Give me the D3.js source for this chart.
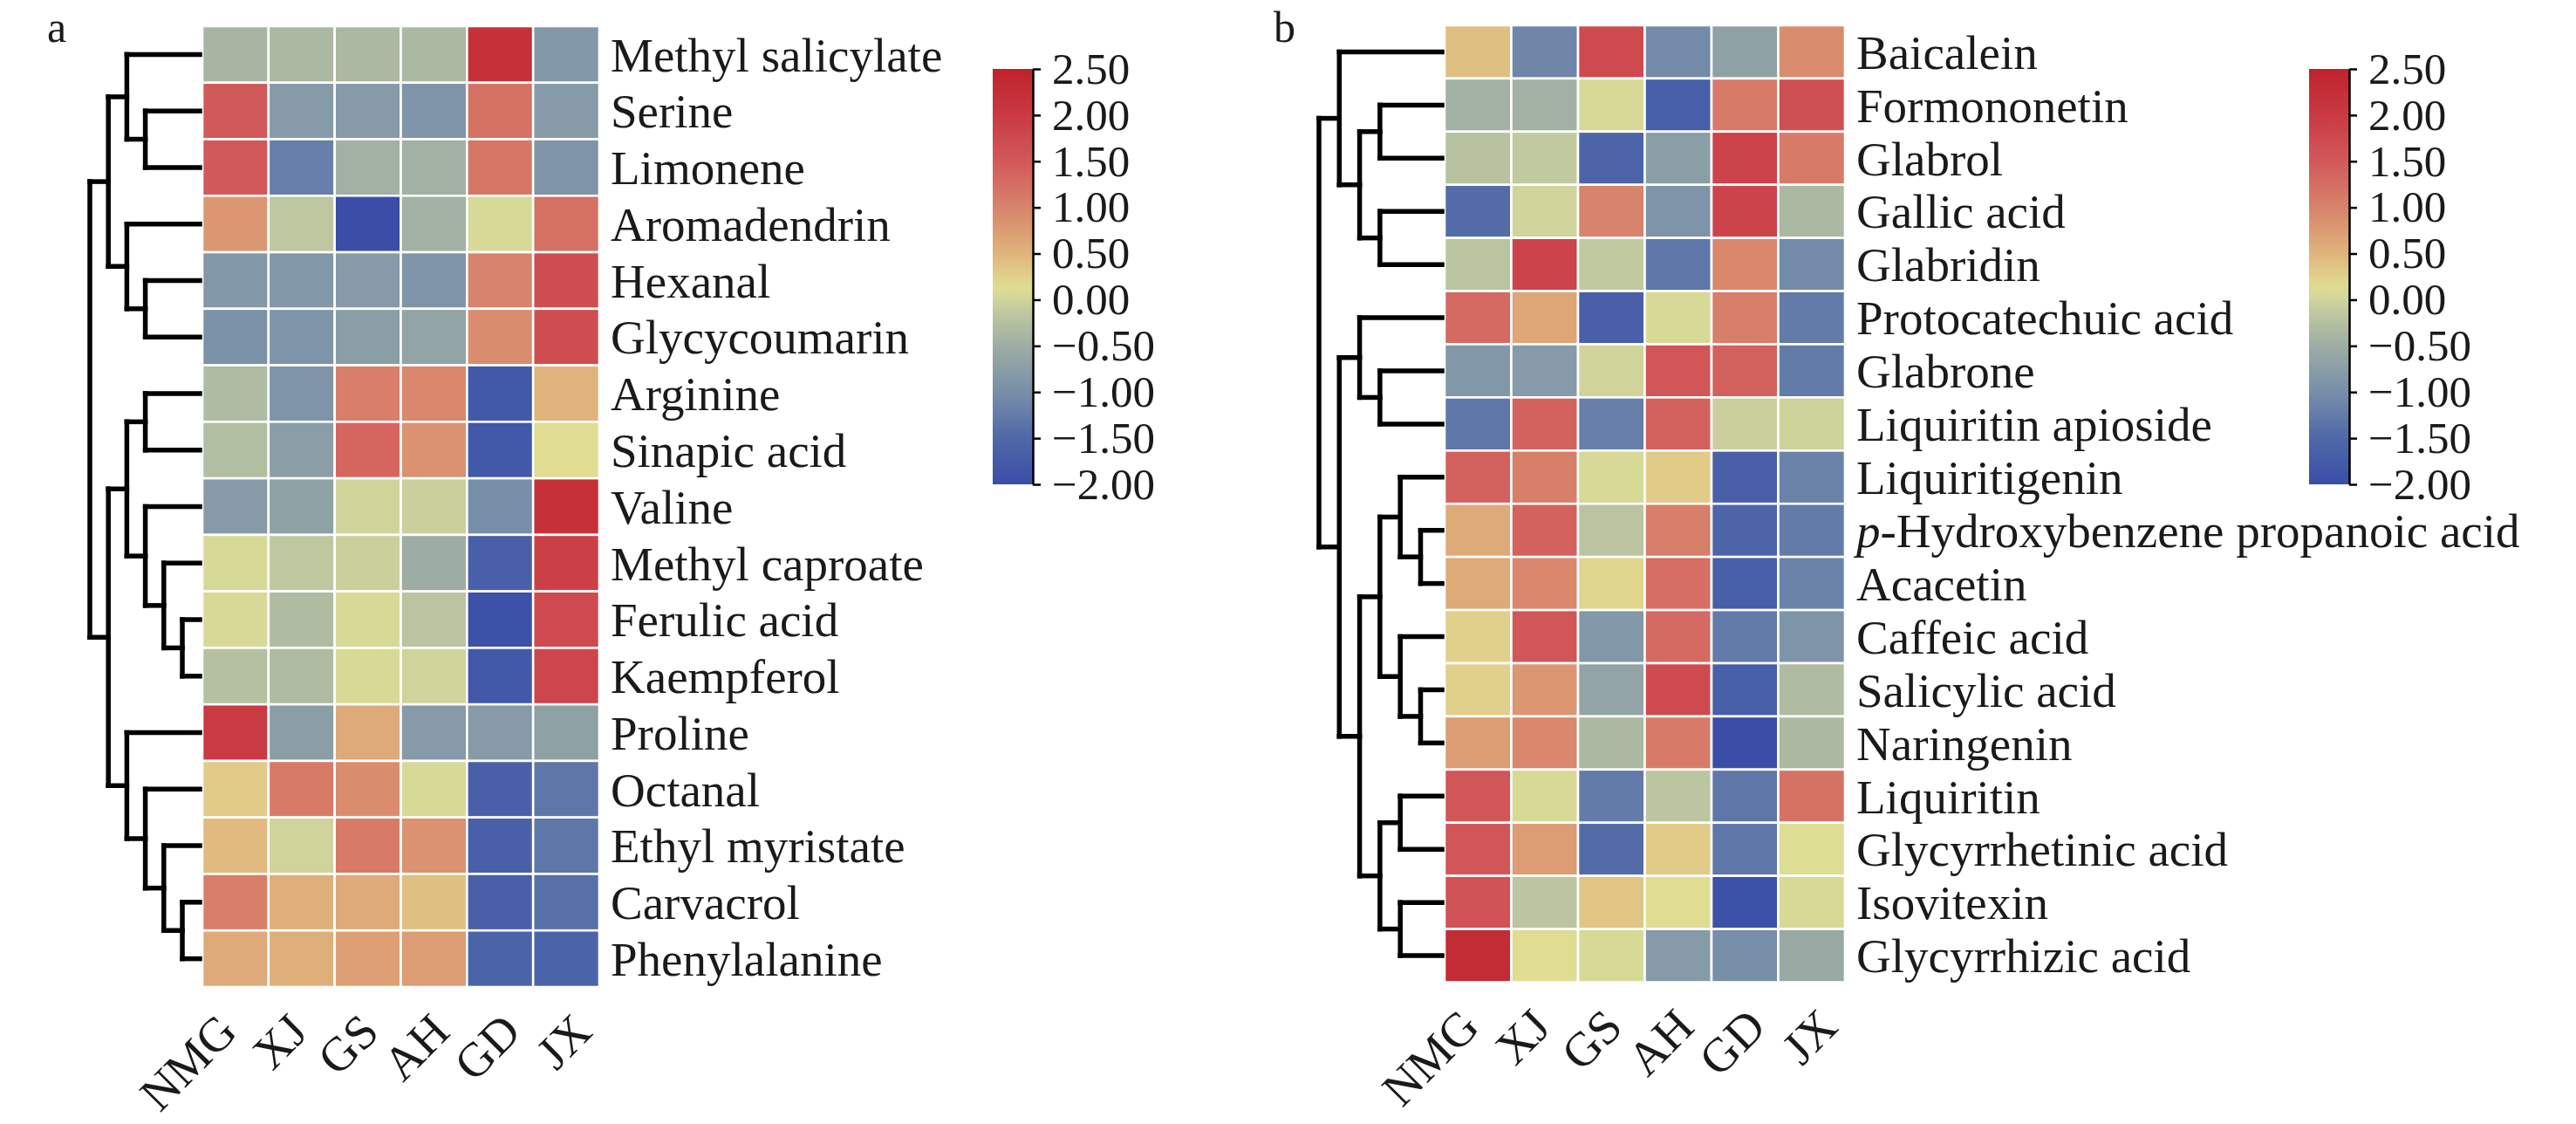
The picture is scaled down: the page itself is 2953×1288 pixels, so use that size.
<!DOCTYPE html>
<html>
<head>
<meta charset="utf-8">
<script src="https://cdn.jsdelivr.net/npm/d3@7/dist/d3.min.js"></script>
<style>
  html, body { margin: 0; padding: 0; background: #fff; }
  svg { display: block; }
  text { font-family: "Liberation Serif", "Times New Roman", serif; fill: #1a1a1a; }
</style>
</head>
<body>
<svg id="chart" width="2953" height="1288"></svg>
<script>
// ---------------- DATA ----------------
const columns = ["NMG", "XJ", "GS", "AH", "GD", "JX"];

const rowsA = ["Methyl salicylate", "Serine", "Limonene", "Aromadendrin", "Hexanal", "Glycycoumarin",
  "Arginine", "Sinapic acid", "Valine", "Methyl caproate", "Ferulic acid", "Kaempferol",
  "Proline", "Octanal", "Ethyl myristate", "Carvacrol", "Phenylalanine"];

const valuesA = [
  [-0.40, -0.35, -0.35, -0.35,  2.20, -0.85],
  [ 1.50, -0.80, -0.80, -0.90,  1.20, -0.80],
  [ 1.50, -1.20, -0.45, -0.45,  1.15, -0.90],
  [ 0.80, -0.15, -2.00, -0.45,  0.05,  1.20],
  [-0.85, -0.85, -0.80, -0.90,  1.00,  1.70],
  [-0.95, -0.90, -0.75, -0.65,  0.90,  1.70],
  [-0.30, -0.90,  1.05,  0.95, -1.80,  0.50],
  [-0.28, -0.75,  1.35,  0.85, -1.80,  0.15],
  [-0.80, -0.70,  0.00, -0.05, -1.00,  2.20],
  [ 0.05, -0.15, -0.05, -0.50, -1.65,  1.90],
  [ 0.05, -0.30,  0.05, -0.20, -1.95,  1.75],
  [-0.25, -0.30,  0.05,  0.00, -1.80,  1.80],
  [ 2.00, -0.75,  0.60, -0.80, -0.80, -0.70],
  [ 0.30,  1.10,  0.90,  0.05, -1.65, -1.30],
  [ 0.45,  0.00,  1.10,  0.85, -1.65, -1.30],
  [ 1.05,  0.55,  0.60,  0.40, -1.65, -1.40],
  [ 0.60,  0.55,  0.70,  0.75, -1.60, -1.60]
];

// row clustering (nested pairs of row indices)
const treeA = [[[0, [1, 2]], [3, [4, 5]]],
               [[[6, 7], [8, [9, [10, 11]]]], [12, [13, [14, [15, 16]]]]]];

const rowsB = ["Baicalein", "Formononetin", "Glabrol", "Gallic acid", "Glabridin", "Protocatechuic acid",
  "Glabrone", "Liquiritin apioside", "Liquiritigenin", "p-Hydroxybenzene propanoic acid", "Acacetin",
  "Caffeic acid", "Salicylic acid", "Naringenin", "Liquiritin", "Glycyrrhetinic acid", "Isovitexin",
  "Glycyrrhizic acid"];

const valuesB = [
  [ 0.40, -1.10,  1.75, -1.05, -0.70,  0.90],
  [-0.45, -0.45,  0.05, -1.70,  1.10,  1.65],
  [-0.22, -0.12, -1.55, -0.75,  1.85,  1.10],
  [-1.45,  0.00,  1.00, -0.90,  1.85, -0.35],
  [-0.20,  1.85, -0.12, -1.30,  0.95, -1.05],
  [ 1.30,  0.65, -1.65,  0.05,  1.05, -1.25],
  [-0.85, -0.80,  0.00,  1.55,  1.40, -1.25],
  [-1.30,  1.40, -1.20,  1.40, -0.05, -0.02],
  [ 1.40,  1.05,  0.05,  0.30, -1.65, -1.15],
  [ 0.60,  1.40, -0.20,  1.05, -1.55, -1.25],
  [ 0.60,  0.95,  0.20,  1.25, -1.70, -1.15],
  [ 0.25,  1.55, -0.85,  1.30, -1.25, -0.90],
  [ 0.25,  0.80, -0.65,  1.75, -1.70, -0.30],
  [ 0.75,  0.95, -0.35,  1.10, -2.00, -0.35],
  [ 1.55,  0.05, -1.25, -0.18, -1.30,  1.20],
  [ 1.55,  0.75, -1.45,  0.30, -1.30,  0.10],
  [ 1.60, -0.18,  0.35,  0.15, -1.95,  0.05],
  [ 2.30,  0.15,  0.05, -0.80, -1.00, -0.55]
];

const treeB = [[0, [[1, 2], [3, 4]]],
               [[5, [6, 7]], [[[8, [9, 10]], [11, [12, 13]]], [[14, 15], [16, 17]]]]];

const colorbarTicks = [2.5, 2.0, 1.5, 1.0, 0.5, 0.0, -0.5, -1.0, -1.5, -2.0];
const colorDomain = [-2.0, -1.5, -1.0, -0.5, -0.1, 0.12, 0.5, 1.0, 1.5, 2.0, 2.5];
const colorRange  = ["#3a4ea8", "#4f68a8", "#778ea9", "#9dada3", "#c3cb9f", "#e0df93",
                     "#e0b47c", "#d8836b", "#d2595a", "#c93a42", "#c0222c"];

// ---------------- DRAW ----------------
const svg = d3.select("#chart");
const color = d3.scaleLinear().domain(colorDomain).range(colorRange).clamp(true);
const FONT = 55;
const TICK_FONT = 51;

function drawPanel(cfg) {
  const g = svg.append("g");
  const x = d3.scaleBand().domain(cfg.cols).range([cfg.x0, cfg.x1]);
  const y = d3.scaleBand().domain(d3.range(cfg.rows.length)).range([cfg.y0, cfg.y1]);

  // cells
  const cells = [];
  cfg.values.forEach((row, i) => row.forEach((v, j) => cells.push({i, j, v})));
  g.append("g").selectAll("rect").data(cells).join("rect")
    .attr("x", d => x(cfg.cols[d.j]))
    .attr("y", d => y(d.i))
    .attr("width", x.bandwidth())
    .attr("height", y.bandwidth())
    .attr("fill", d => color(d.v))
    .attr("stroke", "#fff")
    .attr("stroke-width", 2.6);

  // row labels
  const lab = g.append("g").selectAll("text").data(cfg.rows).join("text")
    .attr("x", cfg.x1 + 13)
    .attr("y", (d, i) => y(i) + y.bandwidth() / 2 + FONT * 0.35)
    .attr("font-size", FONT);
  lab.each(function(d) {
    const t = d3.select(this);
    if (d.startsWith("p-")) {
      t.append("tspan").attr("font-style", "italic").text("p");
      t.append("tspan").text(d.slice(1));
    } else {
      t.text(d);
    }
  });

  // column labels (rotated)
  const xl = d3.scalePoint().domain(cfg.cols).range([cfg.x0 + 42, cfg.x1 - 6]);
  g.append("g").selectAll("text").data(cfg.cols).join("text")
    .attr("text-anchor", "end")
    .attr("font-size", FONT)
    .attr("transform", d => `translate(${xl(d)},${cfg.y1 + 54}) rotate(-45)`)
    .text(d => d);

  // dendrogram
  const root = d3.hierarchy(cfg.tree, d => Array.isArray(d) ? d : null);
  const lx = d => cfg.dx0 + d * cfg.dstep;
  const leafX = cfg.x0 - 3;
  root.eachAfter(n => {
    if (!n.children) { n.py = y(n.data) + y.bandwidth() / 2; n.px = leafX; }
    else {
      n.px = lx(n.depth);
      n.py = (n.children[0].py + n.children[n.children.length - 1].py) / 2;
    }
  });
  const segs = [];
  root.each(n => {
    if (n.children) {
      const c0 = n.children[0], c1 = n.children[n.children.length - 1];
      segs.push([[n.px, c0.py], [n.px, c1.py]]);
      n.children.forEach(c => segs.push([[n.px, c.py], [c.px, c.py]]));
    }
  });
  g.append("g").selectAll("path").data(segs).join("path")
    .attr("d", d => d3.line()(d))
    .attr("fill", "none")
    .attr("stroke", "#000")
    .attr("stroke-width", 5.5)
    .attr("stroke-linecap", "square");

  // colorbar
  const cy = d3.scaleLinear().domain([-2.0, 2.5]).range([cfg.cby1, cfg.cby0]);
  const gradId = "grad" + cfg.id;
  const grad = svg.append("defs").append("linearGradient")
    .attr("id", gradId).attr("x1", 0).attr("y1", 1).attr("x2", 0).attr("y2", 0);
  d3.range(0, 1.0001, 0.02).forEach(t => {
    const v = -2.0 + t * 4.5;
    grad.append("stop").attr("offset", t).attr("stop-color", color(v));
  });
  g.append("rect")
    .attr("x", cfg.cbx).attr("y", cfg.cby0)
    .attr("width", cfg.cbw).attr("height", cfg.cby1 - cfg.cby0)
    .attr("fill", `url(#${gradId})`);
  const ax = g.append("g")
    .attr("transform", `translate(${cfg.cbx + cfg.cbw},0)`)
    .call(d3.axisRight(cy).tickValues(colorbarTicks).tickFormat(d3.format(".2f"))
      .tickSize(9).tickSizeOuter(0).tickPadding(13));
  ax.select(".domain").attr("stroke", "#000").attr("stroke-width", 2.5);
  ax.selectAll(".tick line").attr("stroke", "#000").attr("stroke-width", 2.5);
  ax.selectAll(".tick text").attr("font-size", TICK_FONT)
    .attr("font-family", "Liberation Serif, Times New Roman, serif").attr("fill", "#1a1a1a");

  // panel letter
  g.append("text").attr("x", cfg.lx).attr("y", 48).attr("font-size", 50).text(cfg.letter);
}

drawPanel({
  id: "A", letter: "a", lx: 54,
  cols: columns, rows: rowsA, values: valuesA, tree: treeA,
  x0: 232, x1: 687, y0: 30, y1: 1131,
  dx0: 103, dstep: 21.2,
  cbx: 1138, cbw: 46, cby0: 79, cby1: 555
});

drawPanel({
  id: "B", letter: "b", lx: 1460,
  cols: columns, rows: rowsB, values: valuesB, tree: treeB,
  x0: 1656, x1: 2115, y0: 29, y1: 1125.5,
  dx0: 1512, dstep: 23.3,
  cbx: 2647, cbw: 46, cby0: 79, cby1: 555
});
</script>
</body>
</html>
